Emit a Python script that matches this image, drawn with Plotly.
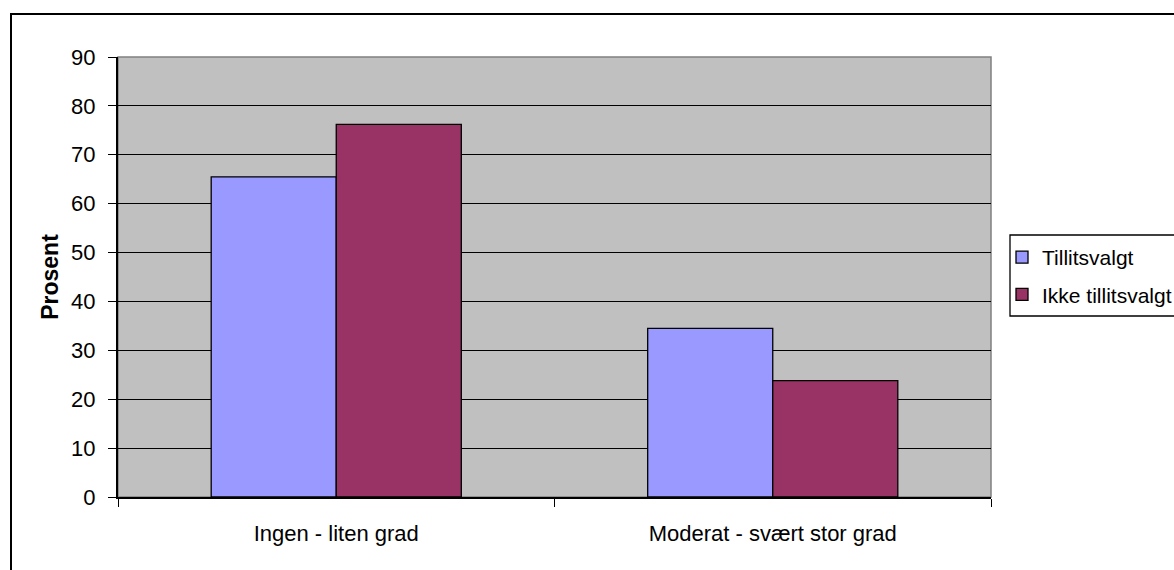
import plotly.graph_objects as go

# Survey shares (percent) by degree and union-representative status
categories = ["Ingen - liten grad", "Moderat - svært stor grad"]
tillitsvalgt = [65.5, 34.5]
ikke_tillitsvalgt = [76.2, 23.8]
y_ticks = [0, 10, 20, 30, 40, 50, 60, 70, 80, 90]

W, H = 1174, 570
L, R, T, B = 118, 183, 57, 73
PW, PH = W - L - R, H - T - B


def px_x(px):
    return (px - L) / PW


def px_y(py):
    return (H - B - py) / PH


FONT = "Liberation Sans, Arial, sans-serif"
TICK_FONT = dict(family=FONT, size=22, color="black")

fig = go.Figure()
fig.add_trace(go.Bar(
    name="Tillitsvalgt", x=categories, y=tillitsvalgt,
    marker=dict(color="#9999FF", line=dict(color="black", width=1.3)),
    legendgroup="a",
))
fig.add_trace(go.Bar(
    name="Ikke tillitsvalgt", x=categories, y=ikke_tillitsvalgt,
    marker=dict(color="#993366", line=dict(color="black", width=1.3)),
    legendgroup="b",
))

shapes = [
    # outer chart frame
    dict(type="rect", xref="paper", yref="paper",
         x0=px_x(11), x1=px_x(1300), y0=px_y(700), y1=px_y(14),
         line=dict(color="black", width=2), fillcolor="rgba(0,0,0,0)", layer="below"),
    # plot area border (top and right in grey)
    dict(type="rect", xref="paper", yref="paper", x0=0, x1=1, y0=0, y1=1,
         line=dict(color="#808080", width=1.5), fillcolor="rgba(0,0,0,0)", layer="below"),
    # legend frame
    dict(type="rect", xref="paper", yref="paper",
         x0=px_x(1010), x1=px_x(1250), y0=px_y(316), y1=px_y(235),
         line=dict(color="black", width=1.3), fillcolor="rgba(0,0,0,0)"),
]

fig.update_layout(
    width=W, height=H,
    margin=dict(l=L, r=R, t=T, b=B, autoexpand=False),
    paper_bgcolor="white",
    plot_bgcolor="#C0C0C0",
    font=dict(family=FONT, size=22, color="black"),
    barmode="group",
    bargap=0.427,
    bargroupgap=0,
    shapes=shapes,
    showlegend=True,
    legend=dict(
        x=px_x(1002), y=px_y(237), xanchor="left", yanchor="top",
        bgcolor="rgba(0,0,0,0)", borderwidth=0,
        font=dict(family=FONT, size=21, color="black"),
        traceorder="grouped", tracegroupgap=7,
    ),
    xaxis=dict(
        type="category", tickson="boundaries",
        ticks="outside", ticklen=8, tickwidth=1.3, tickcolor="black",
        showline=True, linecolor="black", linewidth=2,
        showgrid=False, ticklabelstandoff=16,
        tickfont=TICK_FONT,
    ),
    yaxis=dict(
        range=[0, 90], tickvals=y_ticks,
        ticks="outside", ticklen=8, tickwidth=1.3, tickcolor="black",
        showline=True, linecolor="black", linewidth=2,
        showgrid=True, gridcolor="black", gridwidth=1.3,
        zeroline=False, ticklabelstandoff=8,
        tickfont=TICK_FONT,
        title=dict(text="<b>Prosent</b>", standoff=6,
                   font=dict(family=FONT, size=23, color="black")),
    ),
)

fig.write_html("out.html")
